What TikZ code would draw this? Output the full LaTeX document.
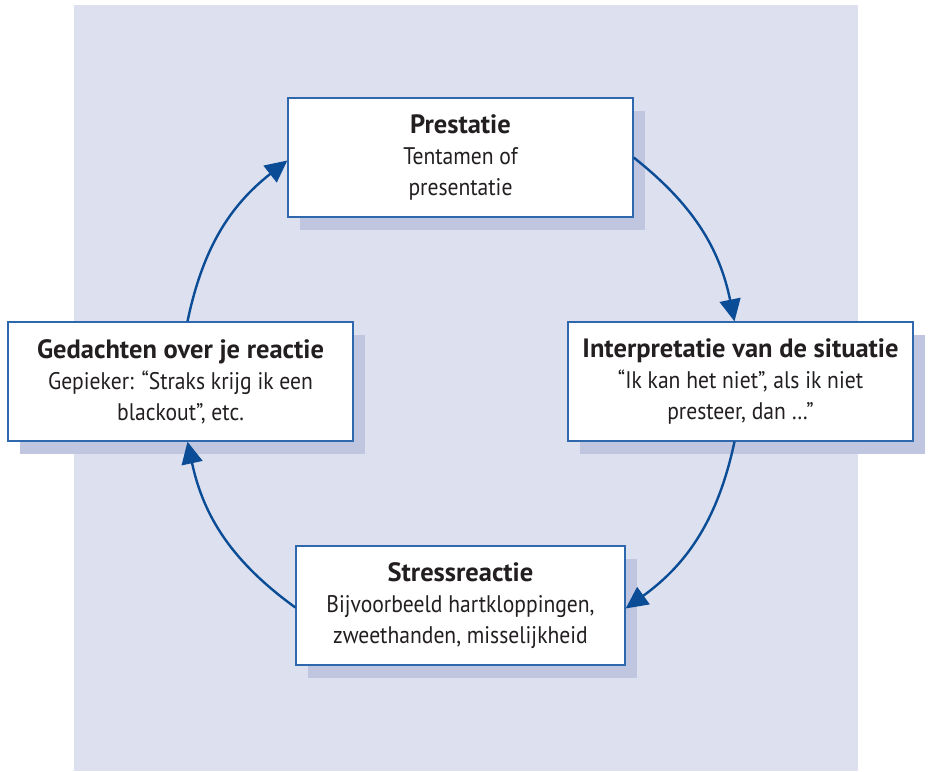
\documentclass[tikz,border=0pt]{standalone}
\usepackage{fontspec}
\setmainfont{PT Sans}
\newfontfamily\bodyfont{PT Sans}[FakeStretch=0.9]
\usepackage{tikz}
\usetikzlibrary{arrows.meta,shadows}

\definecolor{backc}{HTML}{DCE0EF}
\definecolor{shadec}{HTML}{C1C6E0}
\definecolor{framec}{HTML}{2F68AC}
\definecolor{arrowc}{HTML}{0B4C96}
\definecolor{textc}{HTML}{231F20}

\newcommand{\stagetitle}[1]{{\rmfamily\fontsize{26.5}{31}\selectfont\bfseries #1}}

\begin{document}
\begin{tikzpicture}[x=1pt,y=1pt,->,>={Triangle[length=22pt,width=21pt]},auto,
  stage/.style={rectangle,draw=framec,line width=1.3pt,fill=white,text=textc,align=center,
    minimum width=345pt,minimum height=119pt,inner sep=0pt,font=\bodyfont\fontsize{24}{31}\selectfont,
    drop shadow={shadow xshift=12pt,shadow yshift=-13pt,fill=shadec,opacity=1}},
  loopline/.style={draw=arrowc,line width=2.4pt}]
%\tikzstyle{every edge}=[draw=red]

\useasboundingbox (0,0) rectangle (928,-771);
\fill[backc] (74,-5) rectangle (858,-771);

\node[stage] (pres) at (460.5,-157.5) {\stagetitle{Prestatie}\\Tentamen of\\presentatie};
\node[stage] (interp) at (740.5,-381.5) {\stagetitle{Interpretatie van de situatie}\\“Ik kan het niet”, als ik niet\\presteer, dan …”};
\node[stage,minimum width=329pt] (stress) at (460.5,-605.5) {\stagetitle{Stressreactie}\\Bijvoorbeeld hartkloppingen,\\zweethanden, misselijkheid};
\node[stage] (ged) at (180.5,-381.5) {\stagetitle{Gedachten over je reactie}\\Gepieker: “Straks krijg ik een\\blackout”, etc.};

\path (pres.east) edge[loopline,bend left=20] ([xshift=-6pt]interp.north);
\path ([xshift=-6pt]interp.south) edge[loopline,bend left=21] ([yshift=-3pt]stress.east);
\path ([yshift=-2pt]stress.west) edge[loopline,bend left=21] ([xshift=7pt]ged.south);
\path ([xshift=7pt]ged.north) edge[loopline,bend left=20] ([yshift=-3pt]pres.west);
\end{tikzpicture}
\end{document}
